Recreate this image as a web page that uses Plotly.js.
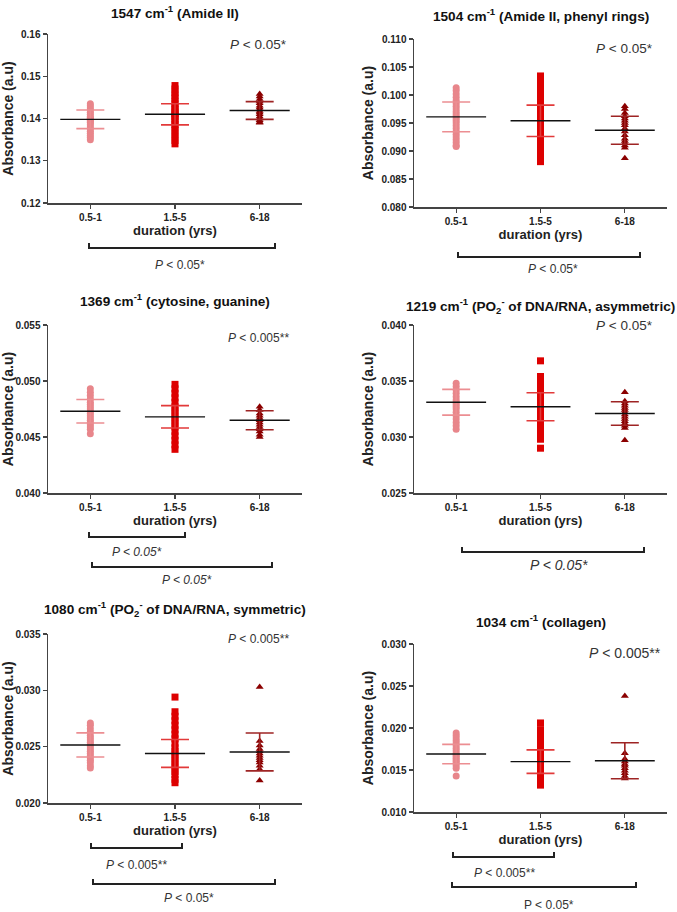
<!DOCTYPE html>
<html>
<head>
<meta charset="utf-8">
<script src="https://cdn.plot.ly/plotly-3.0.1.min.js"></script>
<style>html,body{margin:0;padding:0;background:#fff;}#chart{width:677px;height:912px;}</style>
</head>
<body>
<div id="chart"></div>
<script>
// ---------- DATA ----------
const categories = ["0.5-1", "1.5-5", "6-18"];

const panelTitles = [
  "1547 cm<sup>-1</sup> (Amide II)",
  "1504 cm<sup>-1</sup> (Amide II, phenyl rings)",
  "1369 cm<sup>-1</sup> (cytosine, guanine)",
  "1219 cm<sup>-1</sup> (PO<sub>2</sub><sup>-</sup> of DNA/RNA, asymmetric)",
  "1080 cm<sup>-1</sup> (PO<sub>2</sub><sup>-</sup> of DNA/RNA, symmetric)",
  "1034 cm<sup>-1</sup> (collagen)"
];

// y-axis tick values per panel
const yTicks1547 = [0.12, 0.13, 0.14, 0.15, 0.16];
const yTicks1504 = [0.080, 0.085, 0.090, 0.095, 0.100, 0.105, 0.110];
const yTicks1369 = [0.040, 0.045, 0.050, 0.055];
const yTicks1219 = [0.025, 0.030, 0.035, 0.040];
const yTicks1080 = [0.020, 0.025, 0.030, 0.035];
const yTicks1034 = [0.010, 0.015, 0.020, 0.025, 0.030];

// 1547 cm-1
const a1547_g1 = [0.1435,0.1430,0.1425,0.1420,0.1415,0.1410,0.1405,0.1402,0.1400,0.1398,0.1395,0.1392,0.1390,0.1385,0.1380,0.1375,0.1370,0.1365,0.1360,0.1355,0.1350];
const a1547_g2 = [0.1478,0.1470,0.1462,0.1455,0.1448,0.1440,0.1434,0.1428,0.1422,0.1416,0.1412,0.1408,0.1404,0.1398,0.1392,0.1386,0.1380,0.1372,0.1364,0.1356,0.1348,0.1340];
const a1547_g3 = [0.1458,0.1452,0.1446,0.1440,0.1436,0.1430,0.1426,0.1422,0.1418,0.1414,0.1410,0.1405,0.1400,0.1396,0.1392,0.1390];
const mean1547 = [0.1398, 0.1410, 0.1419];
const sd1547   = [0.0022, 0.0025, 0.0021];

// 1504 cm-1
const a1504_g1 = [0.1013,0.1008,0.1002,0.0996,0.0990,0.0985,0.0980,0.0975,0.0970,0.0966,0.0962,0.0958,0.0954,0.0950,0.0945,0.0940,0.0935,0.0930,0.0925,0.0920,0.0915,0.0910,0.0908];
const a1504_g2 = [0.1034,0.1026,0.1018,0.1010,0.1002,0.0994,0.0986,0.0978,0.0970,0.0962,0.0956,0.0950,0.0944,0.0938,0.0930,0.0922,0.0914,0.0906,0.0898,0.0890,0.0881];
const a1504_g3 = [0.0980,0.0975,0.0968,0.0962,0.0958,0.0954,0.0950,0.0946,0.0940,0.0935,0.0928,0.0922,0.0918,0.0914,0.0910,0.0906,0.0887];
const mean1504 = [0.0961, 0.0954, 0.0937];
const sd1504   = [0.00265, 0.0028, 0.0025];

// 1369 cm-1
const a1369_g1 = [0.0493,0.0490,0.0487,0.0484,0.0481,0.0479,0.0477,0.0475,0.0473,0.0471,0.0469,0.0467,0.0465,0.0463,0.0461,0.0459,0.0457,0.0453];
const a1369_g2 = [0.0497,0.0493,0.0489,0.0485,0.0481,0.0477,0.0474,0.0471,0.0468,0.0465,0.0462,0.0459,0.0455,0.0451,0.0447,0.0443,0.0439];
const a1369_g3 = [0.0477,0.0474,0.0471,0.0469,0.0467,0.0465,0.0463,0.0461,0.0459,0.0457,0.0455,0.0452,0.0450];
const mean1369 = [0.0473, 0.0468, 0.0465];
const sd1369   = [0.00105, 0.0010, 0.00085];

// 1219 cm-1
const a1219_g1 = [0.0348,0.0345,0.0342,0.0339,0.0336,0.0333,0.0331,0.0329,0.0327,0.0325,0.0322,0.0319,0.0316,0.0313,0.0310,0.0307];
const a1219_g2 = [0.0368,0.0354,0.0350,0.0346,0.0342,0.0338,0.0334,0.0330,0.0327,0.0324,0.0320,0.0316,0.0312,0.0308,0.0304,0.0301,0.0298,0.0290];
const a1219_g3 = [0.0340,0.0332,0.0330,0.0328,0.0326,0.0324,0.0322,0.0320,0.0318,0.0316,0.0314,0.0312,0.0310,0.0308,0.0297];
const mean1219 = [0.0331, 0.0327, 0.0321];
const sd1219   = [0.00115, 0.00125, 0.00105];

// 1080 cm-1
const a1080_g1 = [0.0271,0.0269,0.0266,0.0263,0.0260,0.0258,0.0256,0.0254,0.0252,0.0250,0.0248,0.0246,0.0244,0.0242,0.0240,0.0238,0.0236,0.0233,0.0231];
const a1080_g2 = [0.0294,0.0281,0.0277,0.0273,0.0269,0.0265,0.0261,0.0257,0.0253,0.0249,0.0246,0.0243,0.0240,0.0237,0.0234,0.0231,0.0228,0.0225,0.0221,0.0218];
const a1080_g3 = [0.0303,0.0255,0.0251,0.0248,0.0246,0.0244,0.0242,0.0240,0.0238,0.0236,0.0233,0.0230,0.0220];
const mean1080 = [0.02515, 0.0244, 0.02453];
const sd1080   = [0.00107, 0.00124, 0.00168];

// 1034 cm-1
const a1034_g1 = [0.0194,0.0191,0.0188,0.0185,0.0182,0.0179,0.0176,0.0173,0.0170,0.0168,0.0166,0.0164,0.0162,0.0160,0.0158,0.0155,0.0152,0.0143];
const a1034_g2 = [0.0206,0.0198,0.0194,0.0190,0.0186,0.0182,0.0178,0.0174,0.0170,0.0166,0.0162,0.0158,0.0154,0.0150,0.0146,0.0142,0.0138,0.0135,0.0132];
const a1034_g3 = [0.0238,0.0170,0.0163,0.0160,0.0157,0.0155,0.0152,0.0149,0.0146,0.0143,0.0140];
const mean1034 = [0.0169, 0.0160, 0.0161];
const sd1034   = [0.00115, 0.0014, 0.00215];

// p-value labels
const pMain = ["<i>P</i> < 0.05*", "<i>P</i> < 0.05*", "<i>P</i> < 0.005**", "<i>P</i> < 0.05*", "<i>P</i> < 0.005**", "<i>P</i> < 0.005**"];

// ---------- BUILD ----------
const W = 677, H = 912;
const px = v => v / W;
const py = v => 1 - v / H;

const panels = [
  {g:[a1547_g1,a1547_g2,a1547_g3], m:mean1547, s:sd1547, ticks:yTicks1547, fmt:'.2f', box:[48,302,34,203]},
  {g:[a1504_g1,a1504_g2,a1504_g3], m:mean1504, s:sd1504, ticks:yTicks1504, fmt:'.3f', box:[414,667,39,207]},
  {g:[a1369_g1,a1369_g2,a1369_g3], m:mean1369, s:sd1369, ticks:yTicks1369, fmt:'.3f', box:[48,302,325,493]},
  {g:[a1219_g1,a1219_g2,a1219_g3], m:mean1219, s:sd1219, ticks:yTicks1219, fmt:'.3f', box:[414,667,325,493]},
  {g:[a1080_g1,a1080_g2,a1080_g3], m:mean1080, s:sd1080, ticks:yTicks1080, fmt:'.3f', box:[48,302,634,803]},
  {g:[a1034_g1,a1034_g2,a1034_g3], m:mean1034, s:sd1034, ticks:yTicks1034, fmt:'.3f', box:[414,667,644,812]}
];

const ptColors  = ["#E8868B", "#DD0000", "#8B0000"];
const capColors = ["#EC8E92", "#E23A3A", "#9E2424"];
const symbols   = ["circle", "square", "triangle-up"];
const FONT = "Liberation Sans, Arial, sans-serif";

const traces = [];
const layout = {
  width: W, height: H,
  margin: {l:0, r:0, t:0, b:0},
  paper_bgcolor: "#fff", plot_bgcolor: "#fff",
  showlegend: false,
  font: {family: FONT, color: "#222"},
  annotations: [], shapes: []
};

panels.forEach((p, k) => {
  const n = k === 0 ? "" : String(k + 1);
  const xa = "x" + n, ya = "y" + n;
  p.g.forEach((vals, i) => {
    traces.push({
      type: "scatter", mode: "markers", xaxis: xa, yaxis: ya,
      x: vals.map(() => i), y: vals,
      marker: {symbol: symbols[i], size: 7, color: ptColors[i], line: {width: 0}},
      hoverinfo: "y"
    });
  });
  p.m.forEach((mv, i) => {
    traces.push({
      type: "scatter", mode: "markers", xaxis: xa, yaxis: ya,
      x: [i], y: [mv],
      marker: {size: 1, color: "rgba(0,0,0,0)"},
      error_y: {type: "data", array: [p.s[i]], visible: true, color: capColors[i], thickness: 1.6, width: 14},
      hoverinfo: "skip"
    });
  });
  p.m.forEach((mv, i) => {
    traces.push({
      type: "scatter", mode: "lines", xaxis: xa, yaxis: ya,
      x: [i - 0.355, i + 0.355], y: [mv, mv],
      line: {color: "#111", width: 1.4},
      hoverinfo: "skip"
    });
  });

  const [x0, x1, y0, y1] = p.box;
  layout["xaxis" + n] = {
    domain: [px(x0), px(x1)], anchor: ya,
    range: [-0.5, 2.5], tickvals: [0, 1, 2], ticktext: categories,
    showline: true, linecolor: "#444", linewidth: 1.5,
    ticks: "outside", ticklen: 4, tickcolor: "#444", tickwidth: 1.2,
    showgrid: false, zeroline: false,
    tickfont: {family: FONT, size: 10, color: "#222", weight: "bold"},
    title: {text: "duration (yrs)", font: {family: FONT, size: 13, color: "#222", weight: "bold"}, standoff: 4}
  };
  layout["yaxis" + n] = {
    domain: [py(y1), py(y0)], anchor: xa,
    range: [p.ticks[0], p.ticks[p.ticks.length - 1]],
    tickvals: p.ticks, tickformat: p.fmt,
    showline: true, linecolor: "#444", linewidth: 1.5,
    ticks: "outside", ticklen: 4, tickcolor: "#444", tickwidth: 1.2,
    showgrid: false, zeroline: false,
    tickfont: {family: FONT, size: 10, color: "#222", weight: "bold"},
    title: {text: "Absorbance (a.u)", font: {family: FONT, size: 14, color: "#222", weight: "bold"}, standoff: 4}
  };
});

const titleY = [12, 15, 300, 306, 609, 621];
panels.forEach((p, k) => {
  const [x0, x1] = p.box;
  layout.annotations.push({
    xref: "paper", yref: "paper", x: px((x0 + x1) / 2), y: py(titleY[k]),
    xanchor: "center", yanchor: "middle", showarrow: false,
    text: panelTitles[k], font: {family: FONT, size: 13.6, color: "#111", weight: "bold"}
  });
});

const cornerPos = [[258,45,13.5],[624,49,13.5],[258,338,12],[624,325,13.5],[258,639,12],[625,653,14]];
cornerPos.forEach((c, k) => {
  layout.annotations.push({
    xref: "paper", yref: "paper", x: px(c[0]), y: py(c[1]),
    xanchor: "center", yanchor: "middle", showarrow: false,
    text: pMain[k], font: {family: FONT, size: c[2], color: "#333"}
  });
});

const brackets = [
  [89,275,248],[458,640,257],
  [89,185,537],[92,272,567],
  [462,644,552],
  [91,182,848],[93,275,884],
  [453,554,857],[452,636,887]
];
brackets.forEach(b => {
  const [xl, xr, yy] = b;
  layout.shapes.push({
    type: "path", xref: "paper", yref: "paper",
    path: `M ${px(xl)} ${py(yy - 5)} L ${px(xl)} ${py(yy)} L ${px(xr)} ${py(yy)} L ${px(xr)} ${py(yy - 5)}`,
    line: {color: "#222", width: 2}
  });
});
const bracketLabels = [
  [180,265,12,"<i>P</i> < 0.05*"],
  [553,269,12,"<i>P</i> < 0.05*"],
  [137,552,12,"<i>P < 0.05*</i>"],
  [187,580,12,"<i>P < 0.05*</i>"],
  [559,565,14,"<i>P < 0.05*</i>"],
  [136,865,12,"<i>P</i> < 0.005**"],
  [189,898,12,"<i>P</i> < 0.05*"],
  [504,873,12,"<i>P</i> < 0.005**"],
  [549,905,12,"P < 0.05*"]
];
bracketLabels.forEach(l => {
  layout.annotations.push({
    xref: "paper", yref: "paper", x: px(l[0]), y: py(l[1]),
    xanchor: "center", yanchor: "middle", showarrow: false,
    text: l[3], font: {family: FONT, size: l[2], color: "#333"}
  });
});

Plotly.newPlot("chart", traces, layout, {staticPlot: true, displayModeBar: false});
</script>
</body>
</html>
